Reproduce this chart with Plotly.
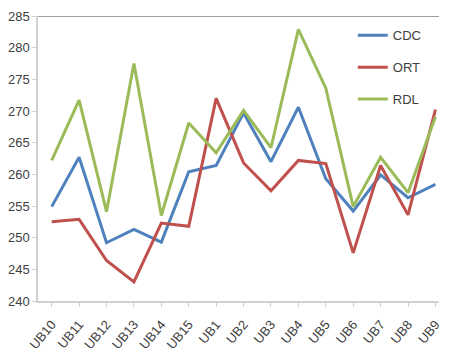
import plotly.graph_objects as go

categories = ["UB10", "UB11", "UB12", "UB13", "UB14", "UB15", "UB1", "UB2",
              "UB3", "UB4", "UB5", "UB6", "UB7", "UB8", "UB9"]
cdc = [254.9, 262.7, 249.2, 251.3, 249.3, 260.4, 261.4, 269.7, 262.0, 270.6,
       259.3, 254.2, 259.9, 256.3, 258.4]
ort = [252.5, 252.9, 246.4, 243.0, 252.3, 251.8, 272.0, 261.8, 257.4, 262.2,
       261.7, 247.6, 261.4, 253.6, 270.2]
rdl = [262.2, 271.7, 254.1, 277.5, 253.5, 268.1, 263.4, 270.1, 264.2, 282.9,
       273.6, 254.9, 262.7, 257.1, 269.1]
y_ticks = [240, 245, 250, 255, 260, 265, 270, 275, 280, 285]

series = [("CDC", cdc, "#4F81BD"), ("ORT", ort, "#C0504D"), ("RDL", rdl, "#9BBB59")]

fig = go.Figure()
for name, vals, color in series:
    fig.add_trace(go.Scatter(
        x=list(range(len(categories))), y=vals, name=name, mode="lines",
        line=dict(color=color, width=3), legendgroup=name,
    ))

font_family = "Liberation Sans Narrow, Liberation Sans, Arial"

# page body has an 8px default margin; size the figure to fit the 465x363 window
fig.update_layout(
    width=457, height=355,
    margin=dict(l=30, r=26, t=8, b=62),
    paper_bgcolor="white", plot_bgcolor="white",
    font=dict(family=font_family, size=13, color="#404040"),
    showlegend=True,
    legend=dict(x=0.785, y=0.985, xanchor="left", yanchor="top",
                bgcolor="rgba(0,0,0,0)", tracegroupgap=12,
                font=dict(size=13, color="#404040", family=font_family),
                itemwidth=30),
    xaxis=dict(
        range=[-0.5, 14.13], tickmode="array",
        tickvals=list(range(len(categories))), ticktext=categories,
        tickangle=-50, showgrid=False, zeroline=False, automargin=False,
        showline=True, linecolor="#D0D0D0", linewidth=1.5,
        ticks="outside", ticklen=4, tickcolor="#D0D0D0", tickson="boundaries",
        ticklabelstandoff=5,
        tickfont=dict(size=13, color="#404040", family=font_family),
    ),
    yaxis=dict(
        range=[240, 285], tickmode="array", tickvals=y_ticks,
        showgrid=False, zeroline=False, automargin=False,
        showline=True, linecolor="#D0D0D0", linewidth=1.5,
        ticks="outside", ticklen=4, tickcolor="#D0D0D0",
        tickfont=dict(size=13, color="#404040", family=font_family),
    ),
    shapes=[dict(type="line", xref="paper", yref="y", x0=0, x1=1, y0=285, y1=285,
                 line=dict(color="#808080", width=1.5))],
)

fig.write_html("out.html")
